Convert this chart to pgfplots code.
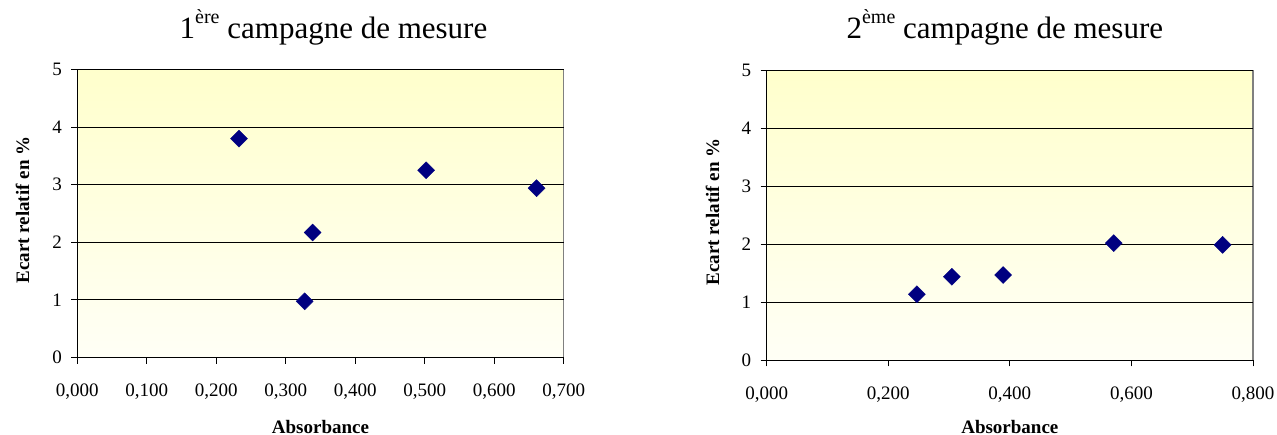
\documentclass[border=0pt]{standalone}
\usepackage{fontspec}
\setmainfont{Liberation Serif}
\usepackage{pgfplots}
\pgfplotsset{compat=1.18}
\definecolor{navymark}{RGB}{0,0,128}
\definecolor{bgtop}{RGB}{255,255,204}
\definecolor{bgbot}{RGB}{255,255,246}
\definecolor{frame}{RGB}{128,128,128}
\pgfplotsset{
  mystyle/.style={
    scale only axis,
    anchor=south west,
    xmin=0, ymin=0, ymax=5,
    ytick={0,1,2,3,4,5},
    axis x line*=bottom,
    axis y line*=left,
    axis line style={-, black, line width=0.8bp},
    tick align=outside,
    major tick length=6bp,
    tick style={black, line width=0.8bp},
    ymajorgrids,
    major grid style={black, line width=0.8bp},
    axis background/.style={shade, top color=bgtop, bottom color=bgbot, draw=frame, line width=1.2bp},
    tick label style={font=\fontsize{19bp}{22bp}\selectfont},
    /pgf/number format/assume math mode=true,
    xticklabel style={/pgf/number format/.cd, fixed, fixed zerofill, precision=3, use comma, /tikz/.cd, yshift=-17bp},
    yticklabel style={xshift=-6bp},
    scaled x ticks=false,
    label style={font=\fontsize{19bp}{22bp}\selectfont\bfseries},
    xlabel={Absorbance},
    ylabel={Ecart relatif en \%},
    title style={font=\fontsize{31bp}{36bp}\selectfont, anchor=base},
    clip=false,
  }
}
\begin{document}
\begin{tikzpicture}
\useasboundingbox (0,0) rectangle (1277bp,435bp);
\begin{axis}[mystyle,
  at={(77.3bp,77.5bp)},
  width=486.4bp, height=288bp,
  xmax=0.7, xtick={0,0.1,0.2,0.3,0.4,0.5,0.6,0.7},
  title={1\raisebox{15bp}{\fontsize{20bp}{20bp}\selectfont ère} campagne de mesure},
  title style={at={(axis description cs:0.5,1)}, yshift=25bp, xshift=13bp},
  xlabel style={at={(axis description cs:0.5,0)}, anchor=base, yshift=-75.8bp},
  ylabel style={at={(axis description cs:-0.1127,0.512)}, anchor=center, rotate=0},
]
\addplot[only marks, mark=square*, mark size=6bp, mark options={rotate=45, fill=navymark, draw=navymark}] coordinates {
(0.2327,3.80) (0.3273,0.976) (0.3388,2.17) (0.502,3.25) (0.661,2.94)
};
\end{axis}
\begin{axis}[mystyle,
  at={(766.7bp,74.7bp)},
  width=486.3bp, height=290bp,
  xmax=0.8, xtick={0,0.2,0.4,0.6,0.8},
  title={2\raisebox{15bp}{\fontsize{20bp}{20bp}\selectfont ème} campagne de mesure},
  title style={at={(axis description cs:0.5,1)}, yshift=26bp, xshift=-5bp},
  xlabel style={at={(axis description cs:0.5,0)}, anchor=base, yshift=-73bp},
  ylabel style={at={(axis description cs:-0.1115,0.512)}, anchor=center, rotate=0},
]
\addplot[only marks, mark=square*, mark size=6bp, mark options={rotate=45, fill=navymark, draw=navymark}] coordinates {
(0.247,1.14) (0.3045,1.44) (0.389,1.47) (0.571,2.02) (0.750,1.99)
};
\end{axis}
\end{tikzpicture}
\end{document}
